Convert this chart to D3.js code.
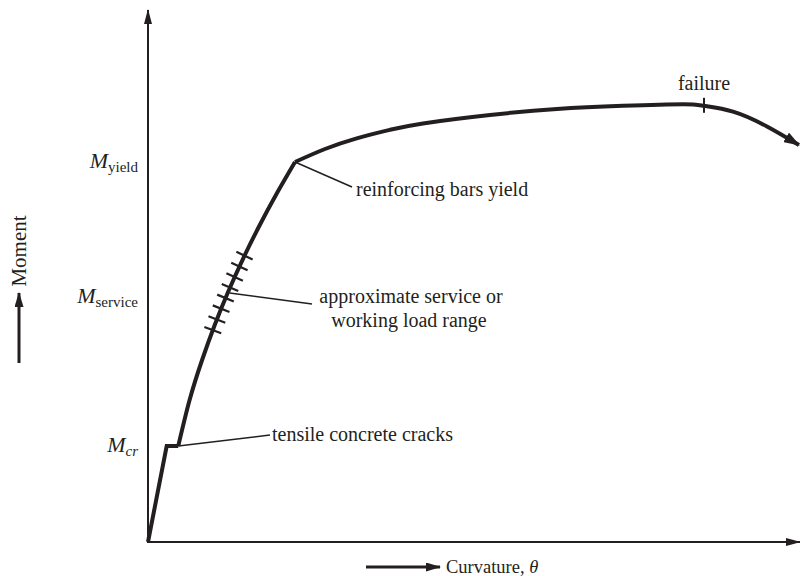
<!DOCTYPE html>
<html>
<head>
<meta charset="utf-8">
<script src="https://cdn.jsdelivr.net/npm/d3@7"></script>
<style>
  body { margin: 0; background: #fff; }
  svg { display: block; }
  text { font-family: 'Liberation Serif', 'Times New Roman', serif; fill: #231f20; }
</style>
</head>
<body>
<div id="chart"></div>
<script>
// curve (abstract units, 0-100 on both axes)
const curvature = [0, 2.87, 4.65, 6.39, 8.31, 10.25, 12.3, 14.65, 17.17, 19.82, 22.58, 27.19, 32.06, 37.17, 42.24, 52.53, 62.83, 72.96, 82.18, 85.41, 89.86, 95.08, 100];
const moment = [0, 18.11, 18.11, 26.79, 34.34, 40.94, 47.17, 53.58, 59.81, 65.85, 71.7, 74.15, 76.17, 77.77, 78.98, 80.57, 81.7, 82.3, 82.6, 82.3, 81.2, 78.4, 74.9];

// index of the yield point and of the failure point in the arrays above
const yieldIndex = 10;
const failureIndex = 19;

// moment levels named on the y axis
const levelNames = ['cr', 'service', 'yield'];
const levelMoments = [18.1, 46.2, 71.7];
const levelItalic = [true, false, false];

// service range tick marks
const serviceTicks = [40, 42, 44, 46, 48, 50, 52, 54];

const INK = '#231f20';
const FONT = 20;
const width = 800;
const height = 576;

const scaleX = d3.scaleLinear().domain([0, 100]).range([148, 799]);
const scaleY = d3.scaleLinear().domain([0, 100]).range([542, 12]);

const pts = curvature.map((c, i) => ({ c, m: moment[i] }));

const $svg = d3.select('#chart').append('svg')
  .attr('width', width)
  .attr('height', height);

const defs = $svg.append('defs');
function addArrow(id, len, wide) {
  defs.append('marker')
    .attr('id', id)
    .attr('markerUnits', 'userSpaceOnUse')
    .attr('viewBox', `0 0 ${len} ${wide}`)
    .attr('refX', len - 1)
    .attr('refY', wide / 2)
    .attr('markerWidth', len)
    .attr('markerHeight', wide)
    .attr('orient', 'auto')
    .append('path')
    .attr('d', `M0,0 L${len},${wide / 2} L0,${wide} Z`)
    .attr('fill', INK);
}
addArrow('arrow-axis', 15, 8);
addArrow('arrow-small', 15, 9);
addArrow('arrow-curve', 16, 11);

// axes
const [x0, x1] = scaleX.range();
const [y0, y1] = scaleY.range();
$svg.append('line')
  .attr('x1', x0).attr('y1', y0).attr('x2', x0).attr('y2', y1 - 2)
  .attr('stroke', INK).attr('stroke-width', 2)
  .attr('marker-end', 'url(#arrow-axis)');
$svg.append('line')
  .attr('x1', x0 - 1).attr('y1', y0).attr('x2', x1 + 1).attr('y2', y0)
  .attr('stroke', INK).attr('stroke-width', 2)
  .attr('marker-end', 'url(#arrow-axis)');

// curve: straight uncracked part, then smooth cracked part, then post-yield
const line = d3.line().x((d) => scaleX(d.c)).y((d) => scaleY(d.m));
const $vis = $svg.append('g').attr('class', 'g-vis')
  .attr('fill', 'none').attr('stroke', INK).attr('stroke-width', 4)
  .attr('stroke-linejoin', 'miter');

$vis.append('path')
  .attr('d', line.curve(d3.curveLinear)(pts.slice(0, 3)));
const $cracked = $vis.append('path')
  .attr('d', line.curve(d3.curveNatural)(pts.slice(2, yieldIndex + 1)));
$vis.append('path')
  .attr('d', line.curve(d3.curveNatural)(pts.slice(yieldIndex)))
  .attr('marker-end', 'url(#arrow-curve)');

// service range ticks, placed on the cracked branch
const node = $cracked.node();
const total = node.getTotalLength();
const samples = d3.range(0, total, 0.5).map((l) => node.getPointAtLength(l));
serviceTicks.forEach((m) => {
  const ty = scaleY(m);
  let k = d3.minIndex(samples, (p) => Math.abs(p.y - ty));
  k = Math.max(2, Math.min(samples.length - 3, k));
  const a = samples[k - 2];
  const b = samples[k + 2];
  const dx = b.x - a.x;
  const dy = b.y - a.y;
  const len = Math.hypot(dx, dy);
  const nx = -dy / len;
  const ny = dx / len;
  const p = samples[k];
  const h = 9;
  $svg.append('line')
    .attr('x1', p.x - nx * h).attr('y1', p.y - ny * h)
    .attr('x2', p.x + nx * h).attr('y2', p.y + ny * h)
    .attr('stroke', INK).attr('stroke-width', 2.2);
});

// failure tick
const fx = scaleX(curvature[failureIndex]);
const fy = scaleY(moment[failureIndex]);
$svg.append('line')
  .attr('x1', fx).attr('y1', fy - 8).attr('x2', fx).attr('y2', fy + 7)
  .attr('stroke', INK).attr('stroke-width', 2);
$svg.append('text')
  .attr('x', fx).attr('y', fy - 16)
  .attr('text-anchor', 'middle')
  .attr('font-size', FONT)
  .text('failure');

// level labels on the y axis
levelNames.forEach((name, i) => {
  const t = $svg.append('text')
    .attr('x', 138)
    .attr('y', scaleY(levelMoments[i]) + 6)
    .attr('text-anchor', 'end');
  t.append('tspan')
    .attr('font-size', 22)
    .attr('font-style', 'italic')
    .text('M');
  t.append('tspan')
    .attr('font-size', 15)
    .attr('dy', 4)
    .attr('font-style', levelItalic[i] ? 'italic' : 'normal')
    .text(name);
});

// annotations with leader lines
function leader(ix, x2, y2) {
  $svg.append('line')
    .attr('x1', scaleX(curvature[ix])).attr('y1', scaleY(moment[ix]))
    .attr('x2', x2).attr('y2', y2)
    .attr('stroke', INK).attr('stroke-width', 1.5);
}
leader(2, 270, 435);
$svg.append('text').attr('x', 272).attr('y', 441).attr('font-size', FONT)
  .text('tensile concrete cracks');

leader(yieldIndex, 352, 187);
$svg.append('text').attr('x', 356).attr('y', 196).attr('font-size', FONT)
  .text('reinforcing bars yield');

// service leader starts on the curve at the middle of the range
const midY = scaleY(d3.mean(serviceTicks));
const mid = samples[d3.minIndex(samples, (p) => Math.abs(p.y - midY))];
$svg.append('line')
  .attr('x1', mid.x + 2).attr('y1', mid.y)
  .attr('x2', 312).attr('y2', 304)
  .attr('stroke', INK).attr('stroke-width', 1.5);
$svg.append('text').attr('x', 411).attr('y', 303).attr('font-size', FONT)
  .attr('text-anchor', 'middle').text('approximate service or');
$svg.append('text').attr('x', 409).attr('y', 327).attr('font-size', FONT)
  .attr('text-anchor', 'middle').text('working load range');

// axis titles with their arrows
$svg.append('line')
  .attr('x1', 366).attr('y1', 567).attr('x2', 440).attr('y2', 567)
  .attr('stroke', INK).attr('stroke-width', 3)
  .attr('marker-end', 'url(#arrow-small)');
const xt = $svg.append('text').attr('x', 446).attr('y', 573).attr('font-size', 18.5);
xt.append('tspan').text('Curvature, ');
xt.append('tspan').attr('font-style', 'italic').text('θ');

$svg.append('line')
  .attr('x1', 19).attr('y1', 363).attr('x2', 19).attr('y2', 293)
  .attr('stroke', INK).attr('stroke-width', 3)
  .attr('marker-end', 'url(#arrow-small)');
$svg.append('text')
  .attr('transform', 'translate(26,251) rotate(-90)')
  .attr('text-anchor', 'middle')
  .attr('font-size', 21)
  .text('Moment');
</script>
</body>
</html>
